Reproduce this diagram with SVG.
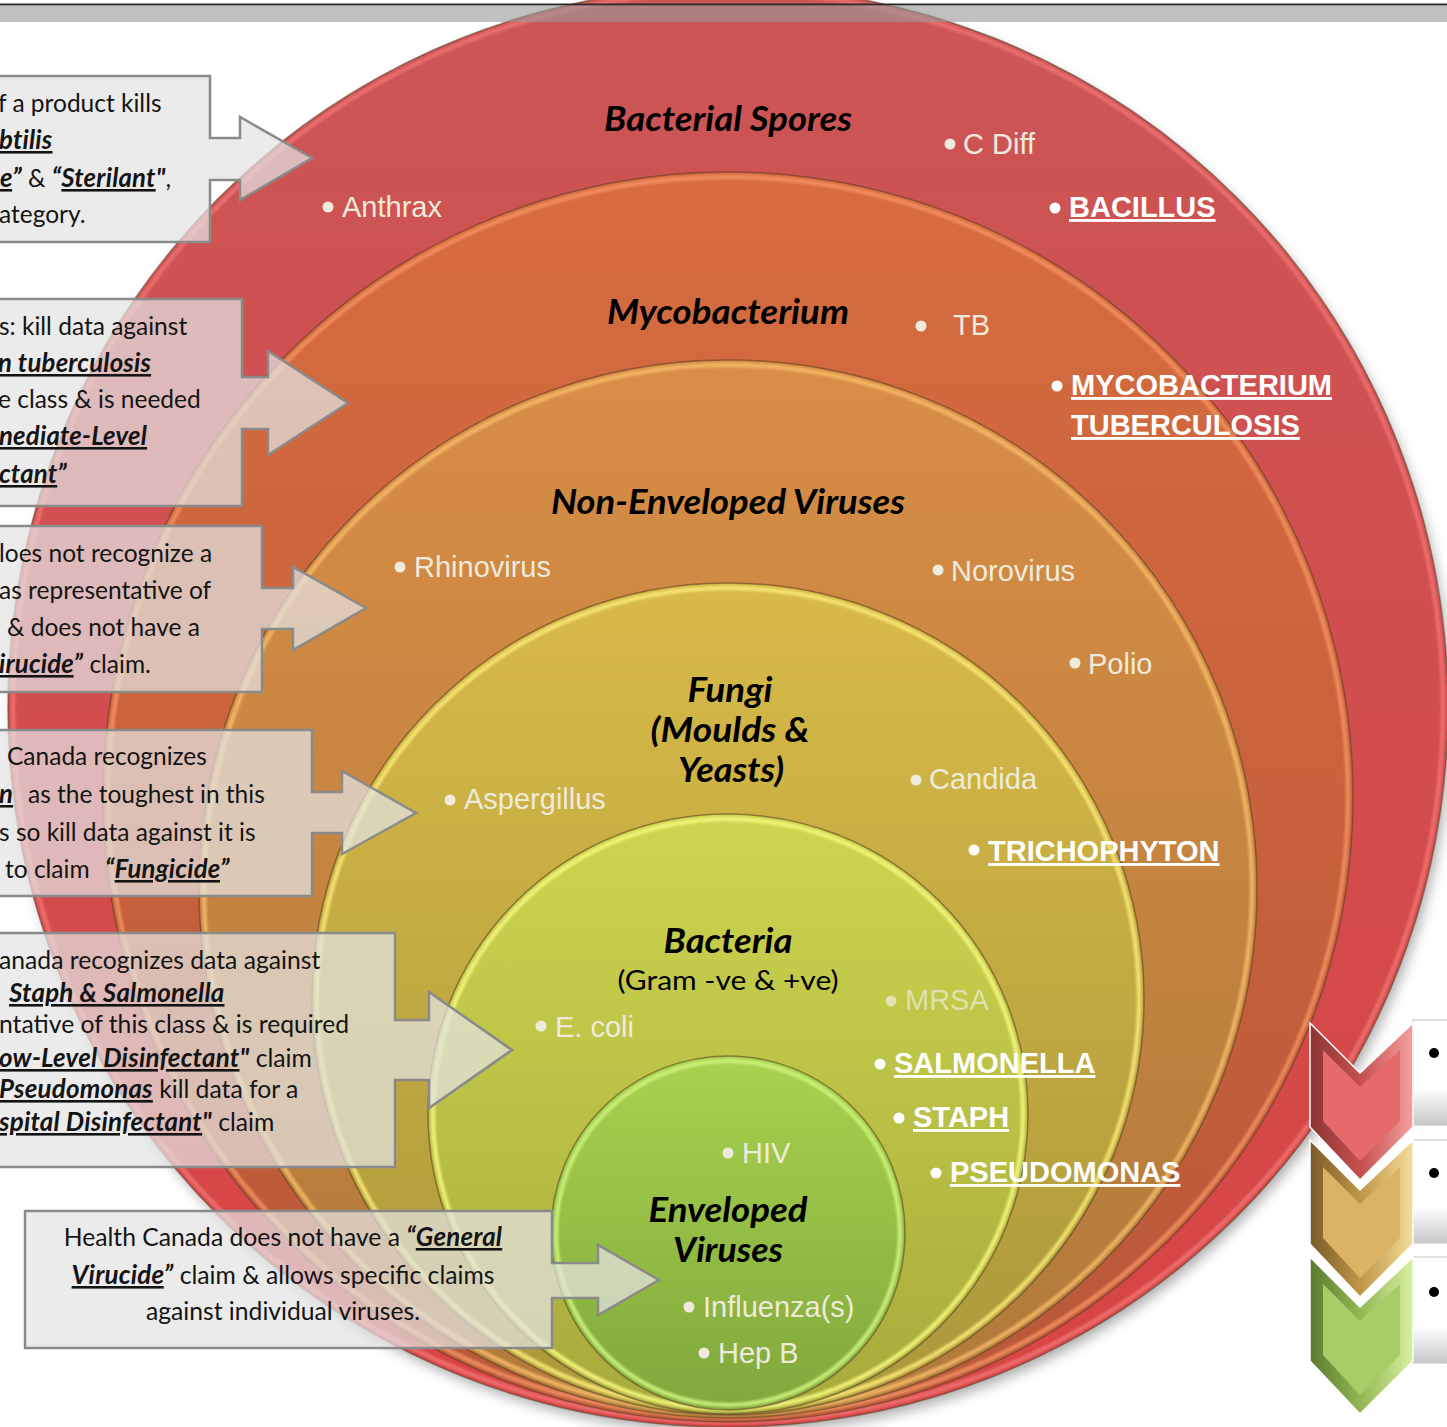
<svg xmlns="http://www.w3.org/2000/svg" width="1447" height="1427" viewBox="0 0 1447 1427">
<style>
.title{font-family:Lato,"Liberation Sans",sans-serif;font-weight:700;font-style:italic;font-size:34px;fill:#000;text-anchor:middle}
.sub{font-family:Lato,"Liberation Sans",sans-serif;font-size:27px;fill:#000;text-anchor:middle}
.org{font-family:"Liberation Sans",Arial,sans-serif;font-size:29px;fill:#efebdc}
.orgb{font-family:"Liberation Sans",Arial,sans-serif;font-size:29px;font-weight:700;fill:#fff;text-decoration:underline}
.bul{fill:#efebdc}
.bulw{fill:#fff}
.rim{fill:none;stroke-width:4.5;filter:url(#soft)}
.edge{stroke:#5a3a22;stroke-opacity:.55;stroke-width:1.5}
.co{fill:#e3e3e3;fill-opacity:.72;stroke:#8a8a8a;stroke-width:2.5}
.ct{font-family:Lato,"Liberation Sans",sans-serif;font-size:24.5px;fill:#141414}
.ct2{font-size:24.7px}
.bi{font-weight:700;font-style:italic;font-size:1.05em;letter-spacing:.2px}
.u{text-decoration:underline}
.box{fill:url(#gBox);stroke:#c4c4c4;stroke-width:1}
</style>
<defs>
<linearGradient id="gRed" x1="0" y1="0" x2="0" y2="1"><stop offset="0" stop-color="#cc5656"/><stop offset="1" stop-color="#d84444"/></linearGradient>
<linearGradient id="gMyco" x1="0" y1="0" x2="0" y2="1"><stop offset="0" stop-color="#d76c40"/><stop offset="1" stop-color="#b85838"/></linearGradient>
<linearGradient id="gNon" x1="0" y1="0" x2="0" y2="1"><stop offset="0" stop-color="#d88e46"/><stop offset="1" stop-color="#b07a3a"/></linearGradient>
<linearGradient id="gFun" x1="0" y1="0" x2="0" y2="1"><stop offset="0" stop-color="#d8ba48"/><stop offset="1" stop-color="#aa983a"/></linearGradient>
<linearGradient id="gBac" x1="0" y1="0" x2="0" y2="1"><stop offset="0" stop-color="#cdd64e"/><stop offset="1" stop-color="#a8aa3c"/></linearGradient>
<linearGradient id="gEnv" x1="0" y1="0" x2="0" y2="1"><stop offset="0" stop-color="#a8d24e"/><stop offset="1" stop-color="#80a83c"/></linearGradient>
<linearGradient id="gBox" x1="0" y1="0" x2="0" y2="1"><stop offset="0" stop-color="#ffffff"/><stop offset=".65" stop-color="#ffffff"/><stop offset="1" stop-color="#c8c8c8"/></linearGradient>
<linearGradient id="cvR" x1="0" y1="0" x2="1" y2="0"><stop offset="0" stop-color="#8c3434"/><stop offset=".5" stop-color="#c85050"/><stop offset="1" stop-color="#f4a0a0"/></linearGradient>
<linearGradient id="cvG" x1="0" y1="0" x2="1" y2="0"><stop offset="0" stop-color="#7a5a28"/><stop offset=".5" stop-color="#c09848"/><stop offset="1" stop-color="#f4dc98"/></linearGradient>
<linearGradient id="cvL" x1="0" y1="0" x2="1" y2="0"><stop offset="0" stop-color="#5a7a30"/><stop offset=".5" stop-color="#94b854"/><stop offset="1" stop-color="#d8f0a0"/></linearGradient>
<filter id="soft" x="-5%" y="-5%" width="110%" height="110%"><feGaussianBlur stdDeviation="1.2"/></filter>
<filter id="shadow" x="-10%" y="-10%" width="120%" height="130%"><feGaussianBlur stdDeviation="7"/></filter>
</defs>

<rect x="0" y="0" width="1447" height="1427" fill="#ffffff"/>

<!-- shadow under rings -->
<circle cx="732" cy="714" r="718" fill="#000" opacity=".35" filter="url(#shadow)"/>

<g id="node-bacterial-spores">
<circle cx="728" cy="707" r="720" fill="url(#gRed)" class="edge"/>
<circle cx="728" cy="707" r="715" class="rim" stroke="#ee7272" stroke-opacity=".85"/>
<text class="title" x="728" y="131" textLength="248" lengthAdjust="spacingAndGlyphs">Bacterial Spores</text>
<circle class="bul" cx="328" cy="207" r="5.5"/><text class="org" x="342" y="217">Anthrax</text>
<circle class="bul" cx="950" cy="144" r="5.5"/><text class="org" x="963" y="154">C Diff</text>
<circle class="bulw" cx="1055" cy="208" r="5.5"/><text class="orgb" x="1069" y="217">BACILLUS</text>
</g>

<g id="node-mycobacterium">
<circle cx="728" cy="797" r="625" fill="url(#gMyco)" class="edge"/>
<circle cx="728" cy="797" r="620" class="rim" stroke="#f29060" stroke-opacity=".85"/>
<text class="title" x="728" y="324" textLength="242" lengthAdjust="spacingAndGlyphs">Mycobacterium</text>
<circle class="bul" cx="921" cy="326" r="5.5"/><text class="org" x="953" y="335">TB</text>
<circle class="bulw" cx="1057" cy="386" r="5.5"/><text class="orgb" x="1071" y="395">MYCOBACTERIUM</text>
<text class="orgb" x="1071" y="435">TUBERCULOSIS</text>
</g>

<g id="node-non-enveloped-viruses">
<circle cx="728" cy="889" r="529" fill="url(#gNon)" class="edge"/>
<circle cx="728" cy="889" r="524" class="rim" stroke="#f4b868" stroke-opacity=".85"/>
<text class="title" x="728" y="514" textLength="354" lengthAdjust="spacingAndGlyphs">Non-Enveloped Viruses</text>
<circle class="bul" cx="400" cy="567" r="5.5"/><text class="org" x="414" y="577">Rhinovirus</text>
<circle class="bul" cx="938" cy="570" r="5.5"/><text class="org" x="951" y="581">Norovirus</text>
<circle class="bul" cx="1075" cy="663" r="5.5"/><text class="org" x="1088" y="674">Polio</text>
</g>

<g id="node-fungi">
<circle cx="728" cy="999" r="416" fill="url(#gFun)" class="edge"/>
<circle cx="728" cy="999" r="411" class="rim" stroke="#f6e474" stroke-opacity=".9"/>
<text class="title" x="730" y="702" textLength="85" lengthAdjust="spacingAndGlyphs">Fungi</text>
<text class="title" x="730" y="742" textLength="159" lengthAdjust="spacingAndGlyphs">(Moulds &amp;</text>
<text class="title" x="731" y="782" textLength="106" lengthAdjust="spacingAndGlyphs">Yeasts)</text>
<circle class="bul" cx="450" cy="800" r="5.5"/><text class="org" x="464" y="809">Aspergillus</text>
<circle class="bul" cx="916" cy="780" r="5.5"/><text class="org" x="929" y="789">Candida</text>
<circle class="bulw" cx="974" cy="850" r="5.5"/><text class="orgb" x="988" y="861">TRICHOPHYTON</text>
</g>

<g id="node-bacteria">
<circle cx="728" cy="1114" r="300" fill="url(#gBac)" class="edge"/>
<circle cx="728" cy="1114" r="295" class="rim" stroke="#f2f47a" stroke-opacity=".9"/>
<text class="title" x="728" y="953" textLength="129" lengthAdjust="spacingAndGlyphs">Bacteria</text>
<text class="sub" x="728" y="990" textLength="221" lengthAdjust="spacingAndGlyphs">(Gram -ve &amp; +ve)</text>
<circle class="bul" cx="541" cy="1026" r="5.5"/><text class="org" x="555" y="1037">E. coli</text>
<circle class="bul" cx="891" cy="1001" r="5.5" opacity=".7"/><text class="org" x="905" y="1010" opacity=".7">MRSA</text>
<circle class="bulw" cx="880" cy="1064" r="5.5"/><text class="orgb" x="894" y="1073">SALMONELLA</text>
<circle class="bulw" cx="899" cy="1118" r="5.5"/><text class="orgb" x="913" y="1127">STAPH</text>
<circle class="bulw" cx="936" cy="1173" r="5.5"/><text class="orgb" x="950" y="1182">PSEUDOMONAS</text>
</g>

<g id="node-enveloped-viruses">
<circle cx="728" cy="1233" r="177" fill="url(#gEnv)" class="edge"/>
<circle cx="728" cy="1233" r="172" class="rim" stroke="#ccf07a" stroke-opacity=".9"/>
<text class="title" x="728" y="1222" textLength="159" lengthAdjust="spacingAndGlyphs">Enveloped</text>
<text class="title" x="728" y="1262" textLength="110" lengthAdjust="spacingAndGlyphs">Viruses</text>
<circle class="bul" cx="728" cy="1153" r="5.5"/><text class="org" x="742" y="1163">HIV</text>
<circle class="bul" cx="689" cy="1307" r="5.5"/><text class="org" x="703" y="1317">Influenza(s)</text>
<circle class="bul" cx="704" cy="1353" r="5.5"/><text class="org" x="718" y="1363">Hep B</text>
</g>

<!-- top band -->
<g id="top-band">
<rect x="0" y="5" width="1447" height="17" fill="#9a9a9a" fill-opacity=".62"/>
<rect x="0" y="3.5" width="1447" height="1.8" fill="#2a2a2a"/>
</g>

<g id="connectors"></g>

<!-- callouts -->
<g id="callout-spores">
<path class="co" d="M-5,76 H210 V138 H240 V117 L312,158 L240,200 V180 H210 V242 H-5 Z"/>
<text class="ct" x="-2" y="112">f a product kills</text>
<text class="ct" x="-1" y="149"><tspan class="bi u">btilis</tspan></text>
<text class="ct" x="0" y="187"><tspan class="bi u">e</tspan><tspan class="bi">”</tspan> &amp; <tspan class="bi">“</tspan><tspan class="bi u">Sterilant</tspan><tspan class="bi">"</tspan>,</text>
<text class="ct" x="-1" y="223">ategory.</text>
</g>

<g id="callout-myco">
<path class="co" d="M-5,299 H242 V377 H268 V351 L348,403 L268,455 V429 H242 V506 H-5 Z"/>
<text class="ct" x="-1" y="335">s: kill data against</text>
<text class="ct" x="-2" y="372"><tspan class="bi u">n tuberculosis</tspan></text>
<text class="ct" x="-2" y="408">e class &amp; is needed</text>
<text class="ct" x="-1" y="445"><tspan class="bi u">nediate-Level</tspan></text>
<text class="ct" x="-1" y="483"><tspan class="bi u">ctant</tspan><tspan class="bi">”</tspan></text>
</g>

<g id="callout-nonenv">
<path class="co" d="M-5,526 H262 V588 H293 V567 L366,608 L293,650 V629 H262 V692 H-5 Z"/>
<text class="ct" x="-1" y="562">loes not recognize a</text>
<text class="ct" x="-1" y="599">as representative of</text>
<text class="ct" x="7" y="636">&amp; does not have a</text>
<text class="ct" x="-1" y="673"><tspan class="bi u">irucide</tspan><tspan class="bi">”</tspan> claim.</text>
</g>

<g id="callout-fungi">
<path class="co" d="M-5,730 H312 V792 H342 V771 L416,813 L342,854 V833 H312 V896 H-5 Z"/>
<text class="ct" x="7" y="765">Canada recognizes</text>
<text class="ct" x="-1" y="803"><tspan class="bi u">n</tspan><tspan x="28">as the toughest in this</tspan></text>
<text class="ct" x="-1" y="841">s so kill data against it is</text>
<text class="ct" x="5" y="878">to claim<tspan x="105" class="bi">“</tspan><tspan class="bi u">Fungicide</tspan><tspan class="bi">”</tspan></text>
</g>

<g id="callout-bacteria">
<path class="co" d="M-5,933 H395 V1020 H429 V992 L512,1050 L429,1108 V1080 H395 V1167 H-5 Z"/>
<text class="ct ct2" x="-1" y="969">anada recognizes data against</text>
<text class="ct ct2" x="9" y="1002"><tspan class="bi u">Staph &amp; Salmonella</tspan></text>
<text class="ct ct2" x="-1" y="1033">ntative of this class &amp; is required</text>
<text class="ct ct2" x="-1" y="1067"><tspan class="bi u">ow-Level Disinfectant</tspan><tspan class="bi">"</tspan> claim</text>
<text class="ct ct2" x="-1" y="1098"><tspan class="bi u">Pseudomonas</tspan> kill data for a</text>
<text class="ct ct2" x="-1" y="1131"><tspan class="bi u">spital Disinfectant</tspan><tspan class="bi">"</tspan> claim</text>
</g>

<g id="callout-enveloped">
<path class="co" d="M25,1211 H552 V1263 H598 V1245 L659,1280 L598,1315 V1298 H552 V1348 H25 Z"/>
<text class="ct ct2" x="283" y="1246" text-anchor="middle">Health Canada does not have a <tspan class="bi">“</tspan><tspan class="bi u">General</tspan></text>
<text class="ct ct2" x="283" y="1284" text-anchor="middle"><tspan class="bi u">Virucide</tspan><tspan class="bi">”</tspan> claim &amp; allows specific claims</text>
<text class="ct ct2" x="283" y="1320" text-anchor="middle">against individual viruses.</text>
</g>

<!-- chevron list at right -->
<g id="chevron-list">
<rect class="box" x="1413" y="1020" width="40" height="105"/>
<rect class="box" x="1413" y="1140" width="40" height="103"/>
<rect class="box" x="1413" y="1257" width="40" height="106"/>
<circle cx="1434" cy="1053" r="5" fill="#000"/>
<circle cx="1434" cy="1173" r="5" fill="#000"/>
<circle cx="1434" cy="1292" r="5" fill="#000"/>
<g id="chevron-green">
<polygon points="1310,1257 1360,1307 1413,1257 1413,1361 1360,1414 1310,1361" fill="url(#cvL)" stroke="#fff" stroke-width="1.5"/>
<polygon points="1323,1284 1360,1321 1400,1284 1400,1355 1360,1395 1323,1355" fill="#a8cc66"/>
</g>
<g id="chevron-gold">
<polygon points="1310,1140 1360,1190 1413,1140 1413,1244 1360,1297 1310,1244" fill="url(#cvG)" stroke="#fff" stroke-width="1.5"/>
<polygon points="1323,1167 1360,1204 1400,1167 1400,1238 1360,1278 1323,1238" fill="#dab464"/>
</g>
<g id="chevron-red">
<polygon points="1310,1023 1360,1073 1413,1023 1413,1127 1360,1180 1310,1127" fill="url(#cvR)" stroke="#fff" stroke-width="1.5"/>
<polygon points="1323,1050 1360,1087 1400,1050 1400,1121 1360,1161 1323,1121" fill="#e66a6a"/>
</g>
</g>
</svg>
